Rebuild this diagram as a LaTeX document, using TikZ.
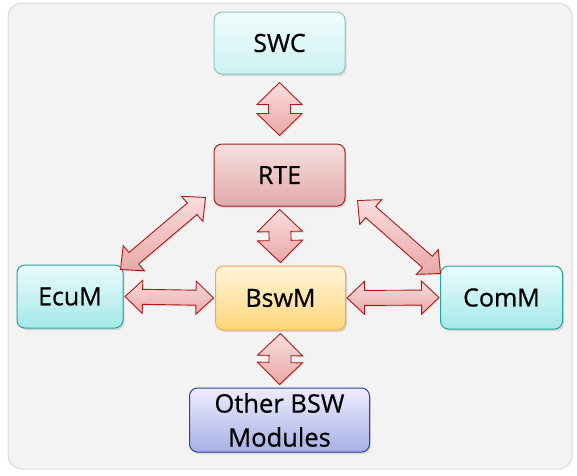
\documentclass[tikz,border=0pt]{standalone}
\usepackage{fontspec}
\setmainfont{Open Sans}
\newfontfamily\boxfont{Open Sans}[FakeBold=0.6]
\usetikzlibrary{calc,shadows}

\definecolor{bgfill}{HTML}{F3F3F3}
\definecolor{bgline}{HTML}{DADADA}
\definecolor{swctop}{HTML}{F2FDFD}
\definecolor{swcbot}{HTML}{CBF1F1}
\definecolor{swcline}{HTML}{8FC6C6}
\definecolor{rtetop}{HTML}{F7E0E0}
\definecolor{rtebot}{HTML}{E2A9A9}
\definecolor{rteline}{HTML}{A32525}
\definecolor{modtop}{HTML}{EAFBFB}
\definecolor{modbot}{HTML}{A5E9E9}
\definecolor{modline}{HTML}{25A3A3}
\definecolor{bswtop}{HTML}{FFF4D8}
\definecolor{bswbot}{HTML}{FFD77A}
\definecolor{bswline}{HTML}{F7A84A}
\definecolor{othtop}{HTML}{EDEDFC}
\definecolor{othbot}{HTML}{A8AFE6}
\definecolor{othline}{HTML}{2A44A0}
\definecolor{arrtop}{HTML}{FADDDD}
\definecolor{arrbot}{HTML}{E9A8A8}
\definecolor{arrline}{HTML}{B01818}

\tikzset{
  box/.style={draw, rounded corners=8pt, line width=1pt,
    minimum width=131pt, minimum height=62pt,
    font=\boxfont\fontsize{25}{34}\selectfont,
    drop shadow={shadow xshift=1.5pt, shadow yshift=-2pt, opacity=0.25}},
  swcbox/.style={box, draw=swcline, top color=swctop, bottom color=swcbot},
  rtebox/.style={box, draw=rteline, top color=rtetop, bottom color=rtebot},
  modbox/.style={box, draw=modline, top color=modtop, bottom color=modbot},
  bswbox/.style={box, draw=bswline, top color=bswtop, bottom color=bswbot},
  othbox/.style={box, draw=othline, top color=othtop, bottom color=othbot},
  fatarrow/.style={draw=arrline, line width=0.9pt, line join=miter,
    top color=arrtop, bottom color=arrbot,
    drop shadow={shadow xshift=1pt, shadow yshift=-1.5pt, opacity=0.2}}
}

% double block arrow between two points, shortened by a gap
% sizes: \hl head length, \hw head half width, \sw shaft half width
\newcommand{\dblarrow}[3]{%
  \coordinate (s) at ($(#1)!#3pt!(#2)$);
  \coordinate (e) at ($(#2)!#3pt!(#1)$);
  \path[fatarrow] (s)
    -- ($(s)!\hl pt!(e)!\hw pt!90:(e)$)
    -- ($(s)!\hl pt!(e)!\sw pt!90:(e)$)
    -- ($(e)!\hl pt!(s)!\sw pt!-90:(s)$)
    -- ($(e)!\hl pt!(s)!\hw pt!-90:(s)$)
    -- (e)
    -- ($(e)!\hl pt!(s)!\hw pt!90:(s)$)
    -- ($(e)!\hl pt!(s)!\sw pt!90:(s)$)
    -- ($(s)!\hl pt!(e)!\sw pt!-90:(e)$)
    -- ($(s)!\hl pt!(e)!\hw pt!-90:(e)$)
    -- cycle;
}

\begin{document}
\begin{tikzpicture}[x=1pt, y=-1pt]
  \useasboundingbox (0,0) rectangle (577,475);
  % background panel
  \draw[bgline, fill=bgfill, rounded corners=14pt, line width=1pt] (8,3) rectangle (572,469);

  % modules
  \node[swcbox] (swc) at (279.5,43) {SWC};
  \node[rtebox] (rte) at (279.5,175) {RTE};
  \node[modbox, minimum width=106pt, minimum height=63pt] (ecum) at (70,296.5) {EcuM};
  \node[bswbox, minimum width=130pt, minimum height=64pt] (bswm) at (280.5,298) {BswM};
  \node[modbox, minimum width=122pt, minimum height=63pt] (comm) at (501.5,297.5) {ComM};
  \node[othbox, minimum width=180pt, minimum height=64pt, align=center,
    inner sep=0pt, font=\boxfont\fontsize{25.5}{34}\selectfont] (other) at (279.5,420) {Other BSW\\Modules};

  % tips of the diagonal arrows
  \coordinate (ecumtip) at ($(ecum.north east)+(-3,5)$);
  \coordinate (rtetipl) at ($(rte.south west)+(-8,-9)$);
  \coordinate (rtetipr) at ($(rte.south east)+(12,-6)$);
  \coordinate (commtip) at ($(comm.north west)+(0.5,8)$);

  % big vertical arrows
  \pgfmathsetmacro{\hl}{22}
  \pgfmathsetmacro{\hw}{22.5}
  \pgfmathsetmacro{\sw}{11}
  \dblarrow{swc.south}{rte.north}{8}
  \dblarrow{rte.south}{bswm.north}{3}
  \dblarrow{bswm.south}{other.north}{3}

  % smaller side arrows
  \pgfmathsetmacro{\hl}{17.5}
  \pgfmathsetmacro{\hw}{16.5}
  \pgfmathsetmacro{\sw}{7.5}
  \dblarrow{ecum.east}{bswm.west}{1.5}
  \dblarrow{bswm.east}{comm.west}{1}
  \dblarrow{ecumtip}{rtetipl}{0}
  \dblarrow{rtetipr}{commtip}{0}

\end{tikzpicture}
\end{document}
